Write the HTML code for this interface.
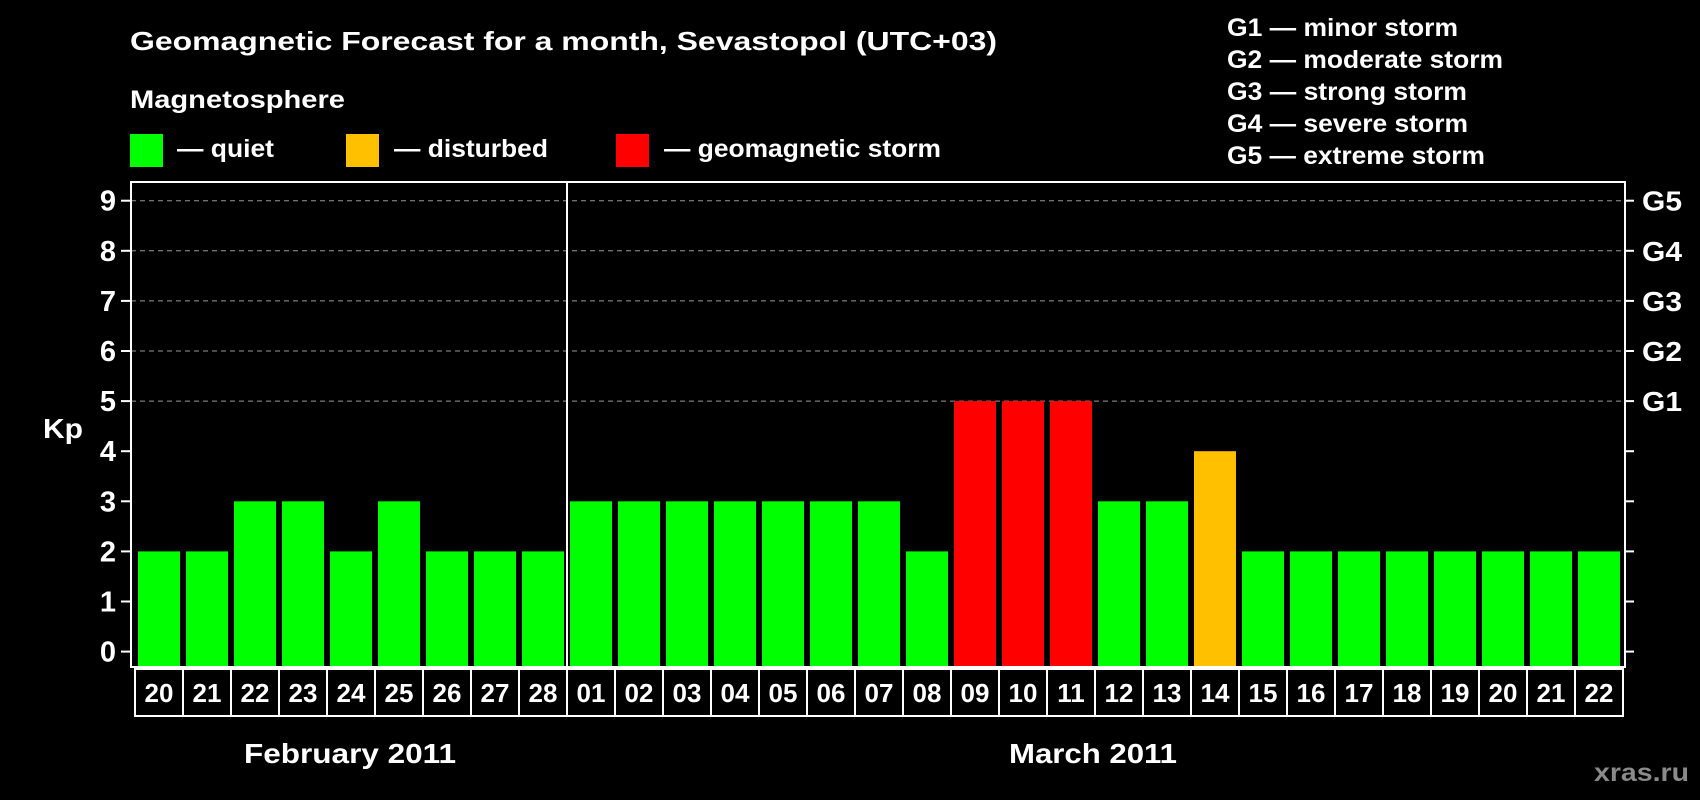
<!DOCTYPE html>
<html><head><meta charset="utf-8"><style>
body{margin:0;background:#000;width:1700px;height:800px;overflow:hidden}
svg{display:block;font-family:"Liberation Sans",Arial,sans-serif;font-weight:bold}
</style></head><body>
<svg id="c" width="1700" height="800" xmlns="http://www.w3.org/2000/svg">
<text x="130" y="50" fill="#fff" font-size="26" textLength="867" lengthAdjust="spacingAndGlyphs">Geomagnetic Forecast for a month, Sevastopol (UTC+03)</text>
<text x="130" y="108" fill="#fff" font-size="25" textLength="215" lengthAdjust="spacingAndGlyphs">Magnetosphere</text>
<rect x="130" y="134" width="33" height="33" fill="#00ff00"/>
<text x="177" y="157" fill="#fff" font-size="25" textLength="97" lengthAdjust="spacingAndGlyphs">— quiet</text>
<rect x="346" y="134" width="33" height="33" fill="#ffc000"/>
<text x="394" y="157" fill="#fff" font-size="25" textLength="154" lengthAdjust="spacingAndGlyphs">— disturbed</text>
<rect x="616" y="134" width="33" height="33" fill="#ff0000"/>
<text x="664" y="157" fill="#fff" font-size="25" textLength="277" lengthAdjust="spacingAndGlyphs">— geomagnetic storm</text>
<g fill="#fff" font-size="25">
<text x="1227" y="36" textLength="231" lengthAdjust="spacingAndGlyphs">G1 — minor storm</text>
<text x="1227" y="68" textLength="276" lengthAdjust="spacingAndGlyphs">G2 — moderate storm</text>
<text x="1227" y="100" textLength="240" lengthAdjust="spacingAndGlyphs">G3 — strong storm</text>
<text x="1227" y="132" textLength="241" lengthAdjust="spacingAndGlyphs">G4 — severe storm</text>
<text x="1227" y="164" textLength="258" lengthAdjust="spacingAndGlyphs">G5 — extreme storm</text>
</g>
<text x="43" y="438" fill="#fff" font-size="28" textLength="40" lengthAdjust="spacingAndGlyphs">Kp</text>
<text x="244" y="763" fill="#fff" font-size="28" textLength="212" lengthAdjust="spacingAndGlyphs">February 2011</text>
<text x="1009" y="763" fill="#fff" font-size="28" textLength="168" lengthAdjust="spacingAndGlyphs">March 2011</text>
<text x="1594" y="781" fill="#8a8a8a" font-size="25" textLength="95" lengthAdjust="spacingAndGlyphs">xras.ru</text>
<g id="plot"></g>
</svg>
<script>
const days = ["20","21","22","23","24","25","26","27","28","01","02","03","04","05","06","07","08","09","10","11","12","13","14","15","16","17","18","19","20","21","22"];
const kp = [2,2,3,3,2,3,2,2,2,3,3,3,3,3,3,3,2,5,5,5,3,3,4,2,2,2,2,2,2,2,2];
const yTicks = [0,1,2,3,4,5,6,7,8,9];
const gLabels = ["G1","G2","G3","G4","G5"];
const gLevels = [5,6,7,8,9];
const monthSplit = 9;

const L=131,R=1625,T=182,B=667,y0=651.6,unit=50.1,pitch=48;
const y=v=>y0-v*unit, x=i=>L+3+i*pitch;
const color=v=>v>=5?"#ff0000":(v>=4?"#ffc000":"#00ff00");
const NS="http://www.w3.org/2000/svg", g=document.getElementById("plot");
function mk(t,a){const e=document.createElementNS(NS,t);for(const k in a)e.setAttribute(k,a[k]);g.appendChild(e);return e;}

yTicks.forEach(v=>{
  if(v>=5){const ln=mk("line",{x1:L,x2:R,y1:y(v),y2:y(v),stroke:"#999","stroke-width":1,"stroke-dasharray":"5,4"});
  
  }
  const t1=mk("line",{x1:L-10,x2:L,y1:y(v),y2:y(v),stroke:"#fff","stroke-width":2});
  
  
  const t2=mk("line",{x1:R,x2:R+9,y1:y(v),y2:y(v),stroke:"#fff","stroke-width":2});
  
  
  const tx=mk("text",{x:L-15,y:y(v)+10,fill:"#fff","font-size":29,"text-anchor":"end"});
  tx.textContent=v;
  
  
});
gLabels.forEach((s,i)=>{
  const tx=mk("text",{x:1642,y:y(gLevels[i])+10,fill:"#fff","font-size":28,textLength:40,lengthAdjust:"spacingAndGlyphs"});
  tx.textContent=s;
  
  
});
kp.forEach((v,i)=>{
  const b=mk("rect",{x:x(i)+4,y:y(v),width:42,height:B-1-y(v),fill:color(v)});
  
  
  const c=mk("rect",{x:x(i)+1,y:B+2,width:pitch,height:47,fill:"none",stroke:"#fff","stroke-width":2});
  
  
  const t=mk("text",{x:x(i)+25,y:B+35,fill:"#fff","font-size":26,"text-anchor":"middle"});
  t.textContent=days[i];
  
  
});
const dv=mk("line",{x1:x(monthSplit)+1,x2:x(monthSplit)+1,y1:T,y2:B+49,stroke:"#fff","stroke-width":2});


const fr=mk("rect",{x:L,y:T,width:R-L,height:B-T,fill:"none",stroke:"#fff","stroke-width":2});


</script>
</body></html>
